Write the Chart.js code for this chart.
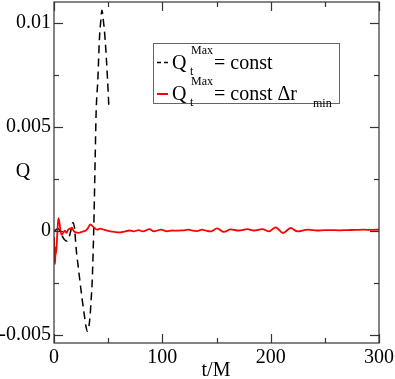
<!DOCTYPE html>
<html>
<head>
<meta charset="utf-8">
<script src="https://cdn.jsdelivr.net/npm/chart.js@4"></script>
<style>
  html, body { margin: 0; padding: 0; background: #fff; }
  #wrap { width: 395px; height: 379px; }
</style>
</head>
<body>
<div id="wrap"><canvas id="qChart" width="395" height="379"></canvas></div>
<script>
// dashed black curve: Q_t^Max = const (ends near t = 50)
const tBlack = [0, 2, 4, 6, 8, 10, 12, 14, 15.5, 17.5, 19, 20.5, 22.3, 24.1, 26, 28.1, 29.5, 30.9, 32.2, 33.3, 34.3, 35.2, 36.2, 37, 38, 38.9, 40.5, 41.9, 43.2, 44.2, 45.6, 47.2, 49.4, 50.6];
const qBlack = [0, 0.00005, 0.0001, -0.00005, -0.0003, -0.00045, -0.0005, -0.0003, 0, 0.0004, 0.0001, -0.0009, -0.0017, -0.0025, -0.0033, -0.0041, -0.0046, -0.00484, -0.0046, -0.0041, -0.0033, -0.0025, -0.0009, 0.0008, 0.0035, 0.0057, 0.0073, 0.0092, 0.0101, 0.0106, 0.0101, 0.0092, 0.0073, 0.006];

// red curve: Q_t^Max = const dr_min
const tRed = [0, 0.5, 1, 1.5, 2, 3, 4, 5, 6, 7, 8.5, 10, 11.5, 13, 15, 16.5, 18, 20, 23, 26, 29, 31, 33.5, 36, 38, 40, 42.6, 46, 51.9, 56, 61, 65, 69.8, 73.5, 78, 82, 88.3, 92, 99, 104, 109, 113.6, 119, 124.4, 128, 132, 136.7, 140.5, 144.4, 150.6, 156.8, 163, 170.7, 178.4, 184.6, 192.3, 198.5, 204.6, 211.4, 218.5, 224.7, 234, 243, 250, 255.6, 263, 271, 278, 286, 293, 300];
const qRed = [-0.0003, -0.0012, -0.0016, -0.0008, -0.0011, -0.0002, 0.0006, 0.0004, 0, -0.0002, -0.0001, 0, -0.0001, 0.00005, 0.0001, 0.00015, 0, -0.00008, -0.0001, -0.00005, 0, 0.0001, 0.0003, 0.0002, 0.0001, 0.00005, 0.0001, 0.00005, -0.00003, -0.00006, -0.00008, -0.00004, 0.00001, -0.00003, 0.00003, -0.00003, 0.00008, -0.00003, 0.00005, -0.00003, 0.00001, 0, 0.00002, 0.00005, 0, -0.00002, 0.00005, 0, -0.00003, 0.00011, -0.00006, 0.00006, 0.00001, 0.00008, 0.00001, 0.00008, -0.00003, 0.00016, -0.00011, 0.00013, -0.00003, 0.00005, 0.00001, 0.00003, 0.00003, 0.00002, 0.00003, 0.00004, 0.00005, 0.00004, 0.00005];

const xTicks = [0, 100, 200, 300];
const xMinorTicks = [50, 150, 250];
const yTicks = [-0.005, 0, 0.005, 0.01];
const yTickLabels = ['-0.005', '0', '0.005', '0.01'];
const yMinorTicks = [-0.0025, 0.0025, 0.0075];

const serif = '"Liberation Serif", "Times New Roman", serif';

const framePlugin = {
  id: 'frame',
  afterDatasetsDraw(chart) {
    const ctx = chart.ctx;
    const a = chart.chartArea;
    const xs = chart.scales.x;
    const ys = chart.scales.y;
    ctx.save();
    ctx.strokeStyle = '#333';
    ctx.lineWidth = 1.2;
    ctx.strokeRect(a.left, a.top, a.right - a.left, a.bottom - a.top);

    // inward ticks on all four sides
    const tick = (x1, y1, x2, y2) => {
      ctx.beginPath();
      ctx.moveTo(x1, y1);
      ctx.lineTo(x2, y2);
      ctx.stroke();
    };
    xTicks.forEach(v => {
      const px = Math.round(xs.getPixelForValue(v)) + 0.5;
      tick(px, a.bottom, px, a.bottom - 9);
      tick(px, a.top, px, a.top + 9);
    });
    xMinorTicks.forEach(v => {
      const px = Math.round(xs.getPixelForValue(v)) + 0.5;
      tick(px, a.bottom, px, a.bottom - 5);
      tick(px, a.top, px, a.top + 5);
    });
    yTicks.forEach(v => {
      const py = Math.round(ys.getPixelForValue(v)) + 0.5;
      tick(a.left, py, a.left + 9, py);
      tick(a.right, py, a.right - 9, py);
    });
    yMinorTicks.forEach(v => {
      const py = Math.round(ys.getPixelForValue(v)) + 0.5;
      tick(a.left, py, a.left + 5, py);
      tick(a.right, py, a.right - 5, py);
    });
    ctx.restore();
  },
  afterDraw(chart) {
    const ctx = chart.ctx;
    ctx.save();
    ctx.fillStyle = '#000';

    // axis titles
    ctx.font = '20px ' + serif;
    ctx.textAlign = 'center';
    ctx.textBaseline = 'middle';
    ctx.fillText('Q', 23, 172);
    ctx.fillText('t/M', 216, 371);

    // legend box
    ctx.strokeStyle = '#666';
    ctx.lineWidth = 1;
    ctx.strokeRect(153.5, 43.5, 186, 60);

    ctx.textAlign = 'left';
    ctx.textBaseline = 'alphabetic';

    // row 1
    ctx.strokeStyle = '#000';
    ctx.lineWidth = 1.5;
    ctx.setLineDash([4, 3]);
    ctx.beginPath();
    ctx.moveTo(157, 62.5);
    ctx.lineTo(168, 62.5);
    ctx.stroke();
    ctx.setLineDash([]);
    ctx.font = '20px ' + serif;
    ctx.fillText('Q', 172, 69);
    ctx.fillText('= const', 214, 69);
    ctx.font = '12px ' + serif;
    ctx.fillText('Max', 191, 54);
    ctx.fillText('t', 190, 75);

    // row 2
    ctx.strokeStyle = '#ff0000';
    ctx.lineWidth = 2;
    ctx.beginPath();
    ctx.moveTo(157, 94);
    ctx.lineTo(168, 94);
    ctx.stroke();
    ctx.font = '20px ' + serif;
    ctx.fillText('Q', 172, 100);
    ctx.fillText('= const \u0394r', 214, 100);
    ctx.font = '12px ' + serif;
    ctx.fillText('Max', 191, 85);
    ctx.fillText('t', 190, 106);
    ctx.fillText('min', 313, 107);
    ctx.restore();
  }
};

const blackData = tBlack.map((t, i) => ({ x: t, y: qBlack[i] }));
const redData = tRed.map((t, i) => ({ x: t, y: qRed[i] }));

new Chart(document.getElementById('qChart'), {
  type: 'line',
  data: {
    datasets: [{
      label: 'Q_t^Max = const dr_min',
      data: redData,
      borderColor: '#ff0000',
      borderWidth: 1.8,
      pointRadius: 0,
      cubicInterpolationMode: 'monotone',
      order: 1
    }, {
      label: 'Q_t^Max = const',
      data: blackData,
      borderColor: '#000',
      borderWidth: 1.5,
      borderDash: [8, 5],
      pointRadius: 0,
      cubicInterpolationMode: 'monotone',
      order: 2
    }]
  },
  options: {
    responsive: false,
    animation: false,
    layout: { padding: { top: 2, right: 16, left: 0, bottom: 0 } },
    plugins: {
      legend: { display: false },
      tooltip: { enabled: false }
    },
    scales: {
      x: {
        type: 'linear',
        min: 0,
        max: 300,
        grid: { display: false, drawTicks: false },
        border: { display: false },
        afterBuildTicks: s => { s.ticks = xTicks.map(v => ({ value: v })); },
        afterFit: s => {
          s.height = 36;
          s.paddingLeft = 0;
          s.paddingRight = 0;
        },
        ticks: {
          autoSkip: false,
          maxRotation: 0,
          padding: 3,
          color: '#000',
          font: { family: serif, size: 20 }
        }
      },
      y: {
        type: 'linear',
        min: -0.0054,
        max: 0.011,
        grid: { display: false, drawTicks: false },
        border: { display: false },
        afterBuildTicks: s => { s.ticks = yTicks.map(v => ({ value: v })); },
        afterFit: s => {
          s.width = 54;
          s.paddingTop = 0;
          s.paddingBottom = 0;
        },
        ticks: {
          autoSkip: false,
          padding: 3,
          color: '#000',
          font: { family: serif, size: 20 },
          callback: v => yTickLabels[yTicks.indexOf(v)]
        }
      }
    }
  },
  plugins: [framePlugin]
});
</script>
</body>
</html>
